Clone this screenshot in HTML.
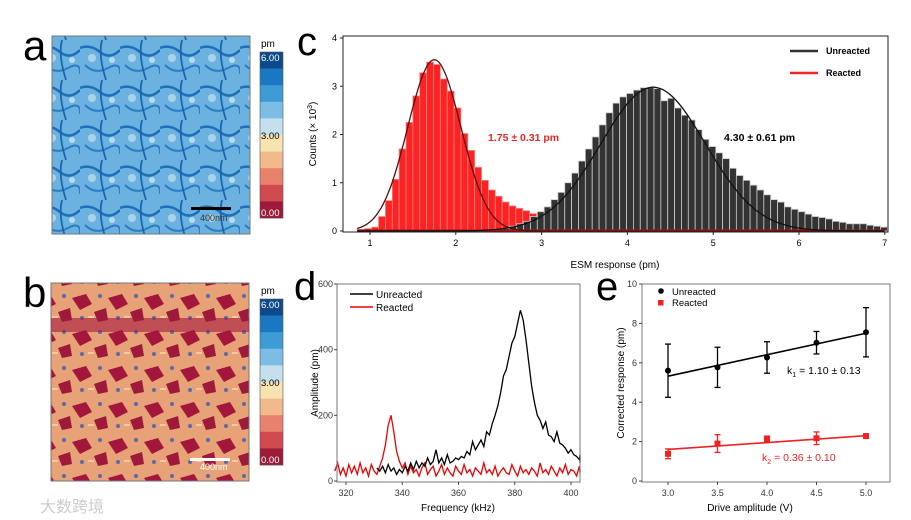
<!DOCTYPE html>
<html><head><meta charset="utf-8"><style>
body{margin:0;background:#fff;width:911px;height:520px;overflow:hidden}
svg{display:block;font-family:"Liberation Sans",Arial,sans-serif}
</style></head><body>
<svg id="fig" width="911" height="520" viewBox="0 0 911 520">
<defs>
<pattern id="pa" width="40" height="40" patternUnits="userSpaceOnUse">
<rect width="40" height="40" fill="#6cb2e0"/>
<path d="M0 8 Q10 4 20 12 T40 10" stroke="#1e6fb8" stroke-width="2.5" fill="none"/>
<path d="M5 25 Q15 35 28 28 T40 34" stroke="#2a7cc4" stroke-width="2" fill="none"/>
<path d="M22 0 Q18 15 26 40" stroke="#1a66ad" stroke-width="1.8" fill="none"/>
<circle cx="12" cy="18" r="4" fill="#a9d3ec"/>
<circle cx="32" cy="20" r="3" fill="#b5daef"/>
</pattern>
<pattern id="pb" width="36" height="36" patternUnits="userSpaceOnUse">
<rect width="36" height="36" fill="#e8a277"/>
<path d="M0 10 L14 6 L20 16 L8 22 Z" fill="#a3173d"/>
<path d="M22 24 L34 20 L36 32 L26 34 Z" fill="#9e1a3a"/>
<circle cx="28" cy="8" r="2" fill="#5a6aa8"/>
<circle cx="10" cy="30" r="2" fill="#5a6aa8"/>
<rect x="16" y="28" width="6" height="2" fill="#f2c8a0"/>
</pattern>
</defs>
<g>
<text x="23" y="60" font-size="42">a</text>
<rect x="52" y="36" width="198" height="198" fill="url(#pa)" stroke="#777"/>
<rect x="191" y="207" width="40" height="3" fill="#000"/>
<text x="200" y="221" font-size="9" fill="#333">400nm</text>
</g>
<g>
<text x="23" y="307" font-size="42">b</text>
<rect x="51" y="283" width="198" height="198" fill="url(#pb)" stroke="#777"/>
<rect x="51" y="318" width="198" height="14" fill="#a3173d" opacity="0.6"/>
<rect x="190" y="458" width="40" height="3" fill="#fff"/>
<text x="200" y="470" font-size="9" fill="#fff">400nm</text>
</g>
<g id="cbars"></g>
<g id="pc"></g>
<g id="pd"></g>
<g id="pe"></g>
<text x="40" y="512" font-size="16" fill="#ccc" font-family="'Liberation Sans','Noto Sans CJK SC',sans-serif">大数跨境</text>
</svg>
<script>
// ---- panel c data ----
const binW = 0.08;
const redStart = 0.86;
const redCounts = [0.03,0.05,0.08,0.3,0.63,1.07,1.7,2.25,2.8,3.28,3.5,3.45,3.15,2.9,2.55,2.02,1.67,1.32,1.05,0.85,0.72,0.6,0.52,0.47,0.42,0.36,0.3,0.2,0.1,0.05];
const blackStart = 2.55;
const blackCounts = [0.05,0.1,0.15,0.2,0.3,0.4,0.5,0.65,0.8,1.0,1.2,1.45,1.7,1.95,2.2,2.45,2.65,2.78,2.85,2.92,2.97,2.97,2.95,2.7,2.75,2.55,2.4,2.3,2.1,1.9,1.75,1.62,1.5,1.3,1.15,1.05,0.95,0.85,0.75,0.65,0.6,0.5,0.45,0.4,0.35,0.3,0.28,0.25,0.2,0.18,0.15,0.15,0.15,0.12,0.1,0.08];
const fitRed = [1.75, 0.31, 3.55];
const fitBlack = [4.30, 0.61, 2.98];
const cXTicks = [1,2,3,4,5,6,7];
const cYTicks = [0,1,2,3,4];
// ---- panel d data ----
const dBlackStart = 331;
const dBlack = [40,30,45,25,50,30,40,20,35,25,45,30,55,35,60,40,55,45,70,50,60,95,55,70,50,80,55,60,70,65,75,70,90,80,120,95,110,125,105,150,140,175,200,230,270,320,340,380,420,440,480,520,490,430,360,290,240,200,185,160,180,140,135,120,150,115,110,100,85,95,80,75,65,80,55,60];
const dRedStart = 316;
const dRed = [30,55,20,40,15,50,25,45,20,55,25,40,15,50,30,20,45,70,110,170,200,150,90,60,40,55,20,45,25,35,15,40,55,20,35,45,15,30,50,20,40,25,15,45,30,20,50,25,35,15,40,30,20,55,25,35,20,45,15,30,40,25,20,50,30,15,45,25,35,20,40,30,15,55,25,35,20,45,30,15,40,25,50,20,35,30,15,45,25,35];
const dXTicks = [320,340,360,380,400];
const dYTicks = [0,200,400,600];
// ---- panel e data ----
const eX = [3.0,3.5,4.0,4.5,5.0];
const eUnY = [5.6,5.77,6.27,7.02,7.55];
const eUnErr = [1.35,1.02,0.8,0.57,1.25];
const eReY = [1.38,1.9,2.13,2.17,2.28];
const eReErr = [0.25,0.45,0.15,0.32,0.1];
const eUnFit = [5.32,7.5];
const eReFit = [1.6,2.3];
const eXTicks = [3.0,3.5,4.0,4.5,5.0];
const eYTicks = [0,2,4,6,8,10];
const cbColors = ["#0d4a8c","#1a78c2","#3f9bd6","#7cbde6","#c4e0ef","#f6e3b0","#f2b98a","#e8826c","#d04a4f","#9e1a3a"];

const NS="http://www.w3.org/2000/svg";
function mk(p,tag,at,txt){const e=document.createElementNS(NS,tag);for(const k in at)e.setAttribute(k,at[k]);if(txt!==undefined)e.textContent=txt;p.appendChild(e);return e;}

const cbg=document.getElementById('cbars');
[[52],[299]].forEach((o,idx)=>{
 const top=o[0];
 const g=mk(cbg,'g',{});
 
 
 const h=166/cbColors.length;
 cbColors.forEach((c,i)=>{mk(g,'rect',{x:260,y:top+i*h,width:23,height:h+0.3,fill:c});});
 mk(g,'rect',{x:260,y:top,width:23,height:166,fill:'none',stroke:'#555','stroke-width':0.6});
 mk(g,'text',{x:261,y:top-5,'font-size':10},'pm');
 mk(g,'text',{x:261,y:top+9,'font-size':9.5,fill:'#fff'},'6.00');
 mk(g,'text',{x:261,y:top+87,'font-size':9.5},'3.00');
 mk(g,'text',{x:261,y:top+164,'font-size':9.5,fill:'#fff'},'0.00');
});

// ---- panel c ----
(function(){
 const g=document.getElementById('pc');
 const L=343,R=888,T=36,B=232;
 const xc=v=>370+(v-1)*85.8, yc=v=>231-v*48.25;
 mk(g,'text',{x:297,y:55,'font-size':40},'c');
 redCounts.forEach((v,i)=>{const x0=redStart+i*binW;const r=mk(g,'rect',{x:xc(x0),y:yc(v),width:binW*85.8,height:231-yc(v),fill:'#f22',stroke:'#e88','stroke-width':0.8});
  
  });
 blackCounts.forEach((v,i)=>{const x0=blackStart+i*binW;const r=mk(g,'rect',{x:xc(x0),y:yc(v),width:binW*85.8,height:231-yc(v),fill:'#333',stroke:'#ccc','stroke-width':0.8});
  
  });
 mk(g,'line',{x1:xc(0.85),x2:xc(7),y1:230.5,y2:230.5,stroke:'#a11','stroke-width':2});
 [[fitRed,'#5a1010','fit-reacted'],[fitBlack,'#111','fit-unreacted']].forEach(([f,c,n])=>{
  let d='';for(let v=0.85;v<=7;v+=0.02){const y=f[2]*Math.exp(-Math.pow(v-f[0],2)/(2*f[1]*f[1]));d+=(d?'L':'M')+xc(v).toFixed(1)+' '+yc(y).toFixed(1);}
  const p=mk(g,'path',{d:d,fill:'none',stroke:c,'stroke-width':1.3});
  
  
 });
 mk(g,'rect',{x:L,y:T,width:R-L,height:B-T,fill:'none',stroke:'#222','stroke-width':1});
 cXTicks.forEach(v=>{mk(g,'line',{x1:xc(v),x2:xc(v),y1:B,y2:B+3,stroke:'#222'});mk(g,'text',{x:xc(v),y:B+14,'font-size':9,'text-anchor':'middle'},v);});
 cYTicks.forEach(v=>{mk(g,'line',{x1:L-3,x2:L,y1:yc(v),y2:yc(v),stroke:'#222'});mk(g,'text',{x:L-6,y:yc(v)+3,'font-size':9,'text-anchor':'end'},v);});
 const xl=mk(g,'text',{x:615,y:268,'font-size':10,'text-anchor':'middle'},'ESM response (pm)');
 
 const yl=mk(g,'text',{x:0,y:0,'font-size':10,'text-anchor':'middle',transform:'translate(316,134) rotate(-90)'});
 yl.innerHTML='Counts (× 10<tspan font-size="7" dy="-4">3</tspan><tspan dy="4">)</tspan>';
 
 mk(g,'line',{x1:790,x2:818,y1:51,y2:51,stroke:'#333','stroke-width':2.5});
 mk(g,'text',{x:826,y:54,'font-size':9,'font-weight':'bold'},'Unreacted');
 mk(g,'line',{x1:790,x2:818,y1:73,y2:73,stroke:'#f22','stroke-width':2.5});
 mk(g,'text',{x:826,y:76,'font-size':9,'font-weight':'bold'},'Reacted');
 mk(g,'text',{x:488,y:141,'font-size':10.5,'font-weight':'bold',fill:'#e22'},'1.75 ± 0.31 pm');
 mk(g,'text',{x:724,y:141,'font-size':10.5,'font-weight':'bold'},'4.30 ± 0.61 pm');
})();

// ---- panel d ----
(function(){
 const g=document.getElementById('pd');
 const L=337,R=580,T=284,B=482;
 const xd=v=>346+(v-320)*2.8125, yd=v=>481-v*197/600;
 mk(g,'text',{x:294,y:300,'font-size':40},'d');
 [[dRed,dRedStart,'#e00','line-reacted'],[dBlack,dBlackStart,'#000','line-unreacted']].forEach(([a,s,c,n])=>{
  const d=a.map((v,i)=>(i?'L':'M')+Math.min(xd(s+i),R).toFixed(1)+' '+yd(v).toFixed(1)).join('');
  const p=mk(g,'path',{d:d,fill:'none',stroke:c,'stroke-width':1.3});
  
 });
 mk(g,'rect',{x:L,y:T,width:R-L,height:B-T,fill:'none',stroke:'#777','stroke-width':1});
 dXTicks.forEach(v=>{mk(g,'line',{x1:xd(v),x2:xd(v),y1:B,y2:B+3,stroke:'#444'});mk(g,'text',{x:xd(v),y:B+14,'font-size':9,'text-anchor':'middle',fill:'#333'},v);});
 dYTicks.forEach(v=>{mk(g,'line',{x1:L-3,x2:L,y1:yd(v),y2:yd(v),stroke:'#444'});mk(g,'text',{x:L-4,y:yd(v)+3,'font-size':9,'text-anchor':'end',fill:'#333'},v);});
 mk(g,'text',{x:458,y:511,'font-size':10,'text-anchor':'middle'},'Frequency (kHz)');
 mk(g,'text',{x:0,y:0,'font-size':10,'text-anchor':'middle',transform:'translate(318,383) rotate(-90)'},'Amplitude (pm)');
 mk(g,'line',{x1:350,x2:373,y1:294,y2:294,stroke:'#000','stroke-width':1.5});
 mk(g,'text',{x:376,y:298,'font-size':10},'Unreacted');
 mk(g,'line',{x1:350,x2:373,y1:307,y2:307,stroke:'#e00','stroke-width':1.5});
 mk(g,'text',{x:376,y:311,'font-size':10},'Reacted');
})();

// ---- panel e ----
(function(){
 const g=document.getElementById('pe');
 const L=642,R=890,T=284,B=482;
 const xe=v=>668+(v-3)*99, ye=v=>481-v*19.7;
 mk(g,'text',{x:596,y:300,'font-size':40},'e');
 [[eUnFit,'#000'],[eReFit,'#e22']].forEach(([f,c])=>{mk(g,'line',{x1:xe(3),x2:xe(5),y1:ye(f[0]),y2:ye(f[1]),stroke:c,'stroke-width':1.6});});
 [[eUnY,eUnErr,'#000','circle','point-unreacted'],[eReY,eReErr,'#e22','rect','point-reacted']].forEach(([ys,es,c,shape,n])=>{
  eX.forEach((x,i)=>{
   const X=xe(x),Y=ye(ys[i]),e1=ye(ys[i]+es[i]),e2=ye(ys[i]-es[i]);
   mk(g,'line',{x1:X,x2:X,y1:e1,y2:e2,stroke:c,'stroke-width':1.3});
   mk(g,'line',{x1:X-3,x2:X+3,y1:e1,y2:e1,stroke:c,'stroke-width':1.3});
   mk(g,'line',{x1:X-3,x2:X+3,y1:e2,y2:e2,stroke:c,'stroke-width':1.3});
   const m= shape==='circle'?mk(g,'circle',{cx:X,cy:Y,r:3,fill:c}):mk(g,'rect',{x:X-3,y:Y-3,width:6,height:6,fill:c});
   
  });
 });
 mk(g,'rect',{x:L,y:T,width:R-L,height:B-T,fill:'none',stroke:'#777','stroke-width':1});
 eXTicks.forEach(v=>{mk(g,'line',{x1:xe(v),x2:xe(v),y1:B,y2:B+3,stroke:'#444'});mk(g,'text',{x:xe(v),y:B+14,'font-size':9,'text-anchor':'middle',fill:'#333'},v.toFixed(1));});
 eYTicks.forEach(v=>{mk(g,'line',{x1:L-3,x2:L,y1:ye(v),y2:ye(v),stroke:'#444'});mk(g,'text',{x:L-5,y:ye(v)+3,'font-size':9,'text-anchor':'end',fill:'#333'},v);});
 mk(g,'text',{x:750,y:511,'font-size':10,'text-anchor':'middle'},'Drive amplitude (V)');
 mk(g,'text',{x:0,y:0,'font-size':10,'text-anchor':'middle',transform:'translate(624,383) rotate(-90)'},'Corrected response (pm)');
 mk(g,'circle',{cx:661,cy:291,r:2.8,fill:'#000'});
 mk(g,'text',{x:672,y:295,'font-size':9.5},'Unreacted');
 mk(g,'rect',{x:658,y:300,width:5.5,height:5.5,fill:'#e22'});
 mk(g,'text',{x:672,y:306,'font-size':9.5},'Reacted');
 const k1=mk(g,'text',{x:787,y:374,'font-size':10.5});k1.innerHTML='k<tspan font-size="7" dy="3">1</tspan><tspan dy="-3"> = 1.10 ± 0.13</tspan>';
 const k2=mk(g,'text',{x:762,y:461,'font-size':10.5,fill:'#e22'});k2.innerHTML='k<tspan font-size="7" dy="3">2</tspan><tspan dy="-3"> = 0.36 ± 0.10</tspan>';
})();
</script>
</body></html>
